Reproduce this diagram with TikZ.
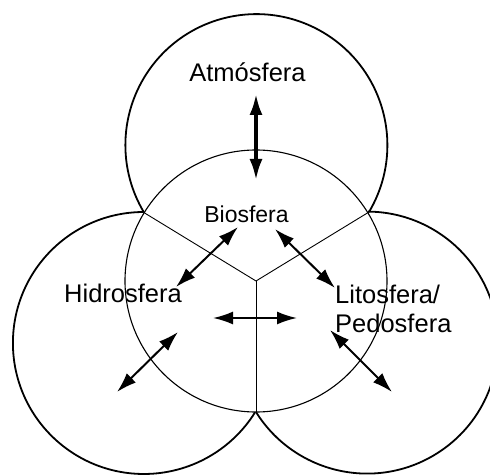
\documentclass[tikz,border=0pt]{standalone}
\usepackage{fontspec}
\setmainfont{Liberation Sans}
\usetikzlibrary{arrows.meta}
\begin{document}
\begin{tikzpicture}[x=1pt, y=1pt, >={Latex[length=20pt,width=13pt]}]
    \tikzset{
        sphere/.style={line width=1.8pt},
        biocircle/.style={line width=1.1pt},
        border/.style={line width=0.9pt},
        flux/.style={<->, line width=2pt},
        bigflux/.style={<->, line width=3.4pt, >={Latex[length=21pt,width=13pt]}},
        spherename/.style={font=\fontsize{25.5}{29}\selectfont, inner sep=0pt, anchor=base, align=left}
    }
    \useasboundingbox (0,0) rectangle (490,474);
    \clip (0,0) rectangle (490,474);

    \coordinate (bio) at (256,193);
    \coordinate (jl) at (143,262);
    \coordinate (jr) at (369,262);
    \coordinate (jb) at (256,62);

    \draw[biocircle] (bio) circle[radius=131];
    \draw[sphere] (jr) arc[start angle=-30.7, end angle=210.7, radius=131];
    \draw[sphere] (jl) arc[start angle=90.4, end angle=328, radius=131];
    \draw[sphere] (jb) arc[start angle=212, end angle=449.6, radius=131];
    \draw[border] (bio) -- (jl);
    \draw[border] (bio) -- (jr);
    \draw[border] (bio) -- (jb);

    \node[spherename] (atm) at (247.5,392) {Atmósfera};
    \node[spherename, font=\fontsize{23}{27}\selectfont] (biosf) at (246.5,251) {Biosfera};
    \node[spherename] (hidro) at (123,171) {Hidrosfera};
    \node[spherename, anchor=base west] (lito) at (335,141) {Litosfera/\\Pedosfera};

    \coordinate (atm-a) at (256,380);
    \coordinate (atm-b) at (256,294);
    \coordinate (hid-a) at (238,247);
    \coordinate (hid-b) at (176,187);
    \coordinate (lit-a) at (275,245);
    \coordinate (lit-b) at (335,186);
    \coordinate (mid-a) at (213,156);
    \coordinate (mid-b) at (297,156);
    \coordinate (hout-a) at (178,142);
    \coordinate (hout-b) at (117,82);
    \coordinate (lout-a) at (330,144);
    \coordinate (lout-b) at (392,82);

    \draw[bigflux] (atm-a) -- (atm-b);
    \draw[flux] (hid-a) -- (hid-b);
    \draw[flux] (lit-a) -- (lit-b);
    \draw[flux] (mid-a) -- (mid-b);
    \draw[flux] (hout-a) -- (hout-b);
    \draw[flux] (lout-a) -- (lout-b);
\end{tikzpicture}
\end{document}
